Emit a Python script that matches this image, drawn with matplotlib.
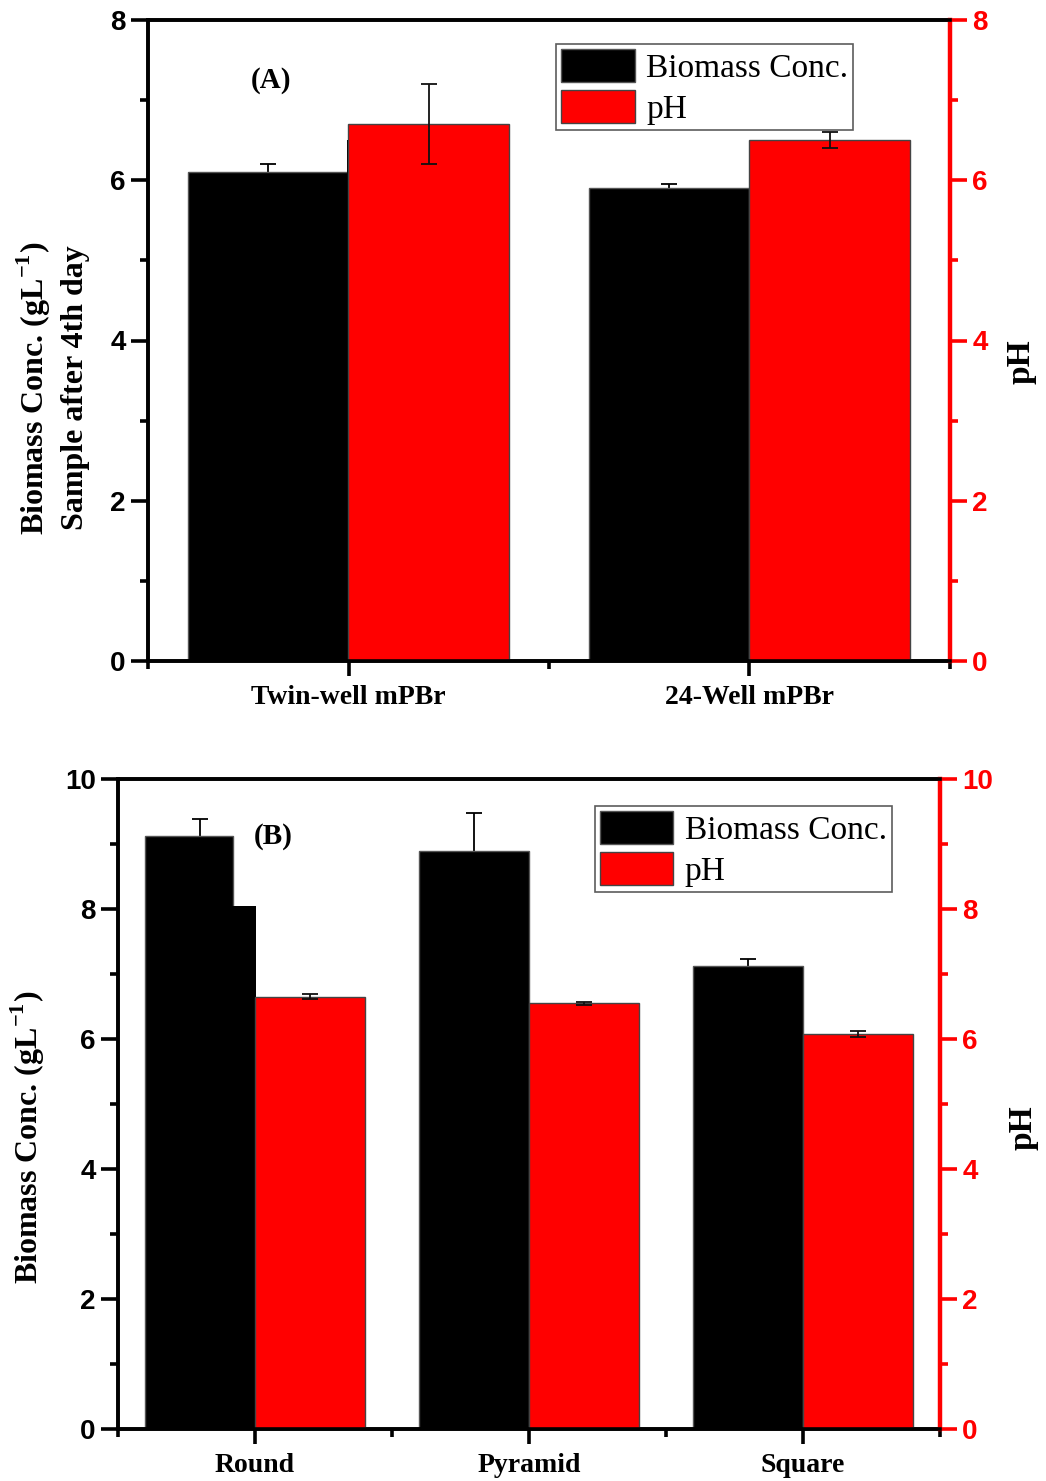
import matplotlib.pyplot as plt
import numpy as np

plt.rcParams['mathtext.fontset'] = 'custom'
plt.rcParams['mathtext.rm'] = 'Liberation Serif'
plt.rcParams['mathtext.bf'] = 'Liberation Serif:bold'

# panel A data
cats_a = ['Twin-well mPBr', '24-Well mPBr']
bio_a = [6.1, 5.9]
bio_a_err = [0.1, 0.05]
ph_a = [6.7, 6.5]
ph_a_err = [0.5, 0.1]
shadow_a = [6.5, 0.0]   # stray bar peeking out behind the pH bar

# panel B data
cats_b = ['Round', 'Pyramid', 'Square']
bio_b = [9.12, 8.9, 7.12]
bio_b_err = [0.26, 0.57, 0.11]
ph_b = [6.65, 6.55, 6.08]
ph_b_err = [0.04, 0.02, 0.05]
shadow_b = [8.05, 0.0, 0.0]

serif = 'Liberation Serif'
sans = 'Liberation Sans'


def panel(rect, cats, bio, bio_err, ph, ph_err, shadow, ymax, tag, leg_anchor,
          bio_w, shadow_w):
    ax = fig.add_axes(rect)
    x = np.arange(1, len(cats) + 1)
    w = 0.4
    ax.bar(x - w, bio, bio_w, align='edge', color='black', edgecolor='#555555', lw=1,
           label='Biomass Conc.', zorder=2)
    ax.bar(x - shadow_w[0], shadow, shadow_w[1], align='edge', color='black', zorder=2.5)
    ax.errorbar(x - w / 2, bio, yerr=bio_err, fmt='none', ecolor='black',
                elinewidth=1.3, capsize=5.5, capthick=1.3, zorder=1.5)
    ax.set_xlim(0.5, len(cats) + 0.5)
    ax.set_ylim(0, ymax)

    ax2 = ax.twinx()
    ax2.bar(x, ph, w, align='edge', color='#ff0000', edgecolor='#444444', lw=1,
            label='pH', zorder=2)
    ax2.errorbar(x + w / 2, ph, yerr=ph_err, fmt='none', ecolor='#111111',
                 elinewidth=1.3, capsize=5.5, capthick=1.3, zorder=3)
    ax2.set_ylim(0, ymax)

    ax.set_xticks(x)
    ax.set_xticklabels(cats, fontfamily=serif, fontweight='bold', fontsize=20)
    ax.set_xticks(np.arange(0.5, len(cats) + 1, 1), minor=True)
    ax.tick_params(axis='x', which='major', direction='out', length=11, width=2.6, pad=6)
    ax.tick_params(axis='x', which='minor', direction='out', length=6, width=2.6)

    ax.set_yticks(np.arange(0, ymax + 0.1, 2))
    ax.set_yticks(np.arange(1, ymax, 2), minor=True)
    ax.tick_params(axis='y', which='major', direction='out', length=12, width=2.6,
                   labelsize=20, pad=4)
    ax.tick_params(axis='y', which='minor', direction='out', length=6, width=2.6)
    for t in ax.get_yticklabels():
        t.set_fontfamily(sans)
        t.set_fontweight('bold')

    ax2.set_yticks(np.arange(0, ymax + 0.1, 2))
    ax2.set_yticks(np.arange(1, ymax, 2), minor=True)
    ax2.tick_params(axis='y', which='major', direction='out', length=12, width=2.6,
                    labelsize=20, colors='#ff0000', pad=4)
    ax2.tick_params(axis='y', which='minor', direction='out', length=6, width=2.6,
                    colors='#ff0000')
    for t in ax2.get_yticklabels():
        t.set_fontfamily(sans)
        t.set_fontweight('bold')

    for s in list(ax.spines.values()) + list(ax2.spines.values()):
        s.set_linewidth(2.6)
    ax2.spines['right'].set_color('#ff0000')
    ax2.spines['right'].set_linewidth(3.2)

    ax.text(tag[1], tag[2], tag[0], transform=ax.transAxes, fontfamily=serif,
            fontweight='bold', fontsize=21, ha='center', va='center')

    h1, l1 = ax.get_legend_handles_labels()
    h2, l2 = ax2.get_legend_handles_labels()
    leg = ax2.legend(h1 + h2, l1 + l2, loc='upper left', bbox_to_anchor=leg_anchor,
                     prop={'family': serif, 'size': 24}, frameon=True, fancybox=False,
                     edgecolor='#333333', handlelength=2.2, handleheight=1.15,
                     handletextpad=0.35, borderpad=0.15, labelspacing=0.18,
                     borderaxespad=0)
    leg.get_frame().set_linewidth(1.2)
    return ax


fig = plt.figure(figsize=(10.46, 14.81), dpi=100)

panel([148 / 1046, 1 - 661 / 1481, 802 / 1046, 641 / 1481],
      cats_a, bio_a, bio_a_err, ph_a, ph_a_err, shadow_a, 8,
      ('(A)', 0.153, 0.905), (0.509, 0.962), [0.4, 0.4], (0.004, 0.012))

panel([118 / 1046, 1 - 1429 / 1481, 822 / 1046, 650 / 1481],
      cats_b, bio_b, bio_b_err, ph_b, ph_b_err, shadow_b, 10,
      ('(B)', 0.189, 0.912), (0.580, 0.958), [0.318, 0.4, 0.4], (0.085, 0.09))

ylab = dict(fontfamily=serif, fontweight='bold', rotation=90, ha='center', va='center')
fig.text(52 / 1046, 1 - 388 / 1481,
         'Biomass Conc. (gL$^{\\mathbf{-1}}$)\nSample after 4th day',
         fontsize=23, linespacing=1.35, multialignment='center', **ylab)
fig.text(28 / 1046, 1 - 1137 / 1481, 'Biomass Conc. (gL$^{\\mathbf{-1}}$)',
         fontsize=23, **ylab)
fig.text(1021 / 1046, 1 - 362 / 1481, 'pH', fontsize=24, **ylab)
fig.text(1023 / 1046, 1 - 1128 / 1481, 'pH', fontsize=24, **ylab)

fig.savefig('out.png', dpi=100)
